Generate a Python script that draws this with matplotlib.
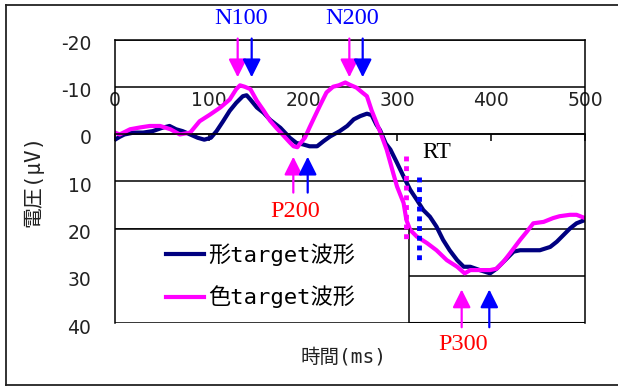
import matplotlib.pyplot as plt
from matplotlib.patches import Rectangle
from matplotlib.lines import Line2D
import matplotlib.transforms as mtransforms

# 形target波形 (navy)
t_shape = [0, 5, 10, 20, 30, 40, 50, 58, 65, 72, 80, 88, 95, 102, 108, 115, 122, 129,
           136, 140, 144, 151, 158, 165, 176, 186, 193, 200, 207, 215, 222, 229, 239,
           247, 254, 261, 268, 273, 278, 282, 288, 293, 300, 307, 314, 321, 328, 335,
           342, 349, 356, 364, 371, 378, 388, 399, 406, 413, 424, 431, 441, 452, 463,
           470, 477, 484, 491, 500]
v_shape = [1.2, 0.6, 0.1, -0.3, -0.3, -0.6, -1.3, -1.7, -1.0, -0.6, 0.1, 0.8, 1.2, 0.8,
           -0.6, -2.7, -4.9, -6.6, -8.0, -8.2, -7.3, -5.6, -4.5, -3.0, -1.3, 0.8, 1.9,
           2.2, 2.6, 2.6, 1.5, 0.5, -0.6, -1.7, -3.1, -3.8, -4.3, -4.0, -2.0, -0.8, 2.0,
           3.3, 6.1, 9.0, 11.8, 13.9, 16.1, 17.5, 19.6, 22.4, 24.6, 26.7, 28.1, 28.1,
           28.8, 29.5, 28.5, 27.1, 24.9, 24.6, 24.6, 24.6, 23.9, 22.8, 21.4, 20.0, 18.9,
           18.2]

# 色target波形 (magenta)
t_color = [0, 5, 16, 27, 37, 48, 59, 69, 80, 90, 101, 112, 122, 129, 133, 138, 144, 151,
           158, 165, 172, 180, 186, 190, 194, 197, 202, 207, 212, 218, 225, 232, 238,
           245, 250, 257, 263, 268, 273, 277, 282, 289, 296, 300, 307, 310, 314, 321,
           332, 342, 353, 364, 372, 378, 388, 399, 406, 413, 420, 431, 438, 445, 456,
           466, 473, 484, 491, 500]
v_color = [-0.3, 0.1, -1.0, -1.4, -1.7, -1.7, -1.0, 0.1, -0.3, -2.7, -4.1, -5.6, -7.3,
           -9.5, -10.3, -10.0, -9.5, -7.0, -5.0, -2.8, -1.2, 0.5, 1.8, 2.6, 2.8, 2.0,
           0.8, -1.4, -3.5, -6.0, -8.8, -10.0, -10.3, -10.9, -10.4, -9.8, -8.8, -8.0,
           -5.0, -3.0, -0.5, 3.3, 8.3, 11.1, 14.6, 18.2, 20.3, 21.7, 23.1, 24.6, 26.7,
           28.1, 29.5, 28.8, 28.8, 28.8, 28.5, 27.1, 25.3, 22.4, 20.7, 18.9, 18.6, 17.8,
           17.4, 17.1, 17.1, 17.8]

x_ticks = [0, 100, 200, 300, 400, 500]
y_ticks = [-20, -10, 0, 10, 20, 30, 40]
y_ticklabels = ['-20', '-10', '0', '10', '20', '30', '40']

# peak markers: (label, label position, magenta arrow x, blue arrow x, tail y, tip y)
peaks = [
    ('N100', (134, -24.4), 130.5, 145.4, -20.2, -12.0),
    ('N200', (252.7, -24.4), 249.3, 263.5, -20.2, -12.0),
    ('P200', (191.5, 16.3), 189.7, 205.0, 12.4, 4.8),
    ('P300', (370.7, 44.5), 368.8, 398.2, 40.9, 32.9),
]
# RT markers (x, y start, y end)
rt_color = (309.6, 4.7, 23.1)
rt_shape = (323.7, 9.0, 27.4)

NAVY = '#000080'
MAGENTA = '#ff00ff'
BLUE = '#0000ff'
JP = ['DejaVu Sans Mono', 'Noto Sans CJK JP']

fig = plt.figure(figsize=(6.18, 3.87), dpi=100)
ax = fig.add_axes([115 / 618, 1 - 323 / 387, 470 / 618, 283.5 / 387])

ax.set_xlim(0, 500)
ax.set_ylim(40, -20)

ax.plot(t_shape, v_shape, color=NAVY, lw=3.0, zorder=2)
ax.plot(t_color, v_color, color=MAGENTA, lw=3.0, zorder=2.1)

# grid + frame
ax.set_yticks(y_ticks)
ax.set_yticklabels(y_ticklabels, fontsize=13.5, color='#222222', family='DejaVu Sans')
ax.tick_params(axis='y', length=0, pad=17)
shift = mtransforms.ScaledTranslation(0, -3 / 100, fig.dpi_scale_trans)
for lbl in ax.get_yticklabels():
    lbl.set_transform(lbl.get_transform() + shift)
ax.yaxis.grid(True, color='black', lw=1.1)
ax.set_axisbelow(True)
for s in ['left', 'right', 'top']:
    ax.spines[s].set_linewidth(1.1)
ax.spines['bottom'].set_position(('data', 0))
ax.spines['bottom'].set_linewidth(1.1)
ax.axhline(40, color='black', lw=1.5, zorder=1)

ax.set_xticks(x_ticks)
ax.set_xticklabels([str(x) for x in x_ticks], fontsize=13.5, color='#222222',
                   family='DejaVu Sans')
ax.tick_params(axis='x', direction='out', length=5, width=1.1, pad=-36)

# legend box
ax.add_patch(Rectangle((0, 20), 312.8, 20, facecolor='white', edgecolor='black',
                       lw=1.1, zorder=3))
handles = [Line2D([], [], color=NAVY, lw=3.0), Line2D([], [], color=MAGENTA, lw=3.0)]
leg = ax.legend(handles, ['形target波形', '色target波形'], loc='center left',
                bbox_to_anchor=(40 / 470, 1 / 6), frameon=False, borderpad=0,
                handlelength=1.7, handletextpad=0.2, labelspacing=0.9,
                prop={'family': JP, 'size': 16})
leg.set_zorder(4)

# RT dotted lines
for (x, y0, y1), c in [(rt_color, MAGENTA), (rt_shape, BLUE)]:
    ax.plot([x, x], [y0, y1], color=c, lw=3.5, dashes=(1, 1), solid_capstyle='butt',
            dash_capstyle='butt', zorder=4)
ax.text(342.6, 3.9, 'RT', fontsize=17, family='Liberation Serif', ha='center',
        va='center', zorder=5)

# peak arrows
for label, (lx, ly), xm, xb, y_tail, y_tip in peaks:
    for x, c in [(xm, MAGENTA), (xb, BLUE)]:
        ax.annotate('', xy=(x, y_tip), xytext=(x, y_tail),
                    arrowprops=dict(arrowstyle='-|>,head_length=1.1,head_width=0.55',
                                    color=c, lw=1.6, shrinkA=0, shrinkB=0,
                                    mutation_scale=10),
                    annotation_clip=False, zorder=5)
    col = BLUE if label.startswith('N') else 'red'
    ax.text(lx, ly, label, color=col, fontsize=17.5, family='Liberation Serif',
            ha='center', va='center', clip_on=False)

ax.set_ylabel('電圧(μV)', family=JP, fontsize=15, color='#222222')
ax.yaxis.set_label_coords(-0.153, 0.5)
ax.set_xlabel('時間(ms)', family=JP, fontsize=14, color='#222222')
ax.xaxis.set_label_coords(0.487, -0.085)

# outer border (top, left, bottom)
for xs, ys in [([6, 618], [382, 382]), ([6, 6], [2, 382]), ([6, 618], [2, 2])]:
    fig.add_artist(Line2D([x / 618 for x in xs], [y / 387 for y in ys],
                          color='#222222', lw=1.3))

fig.savefig('out.png', dpi=100)
